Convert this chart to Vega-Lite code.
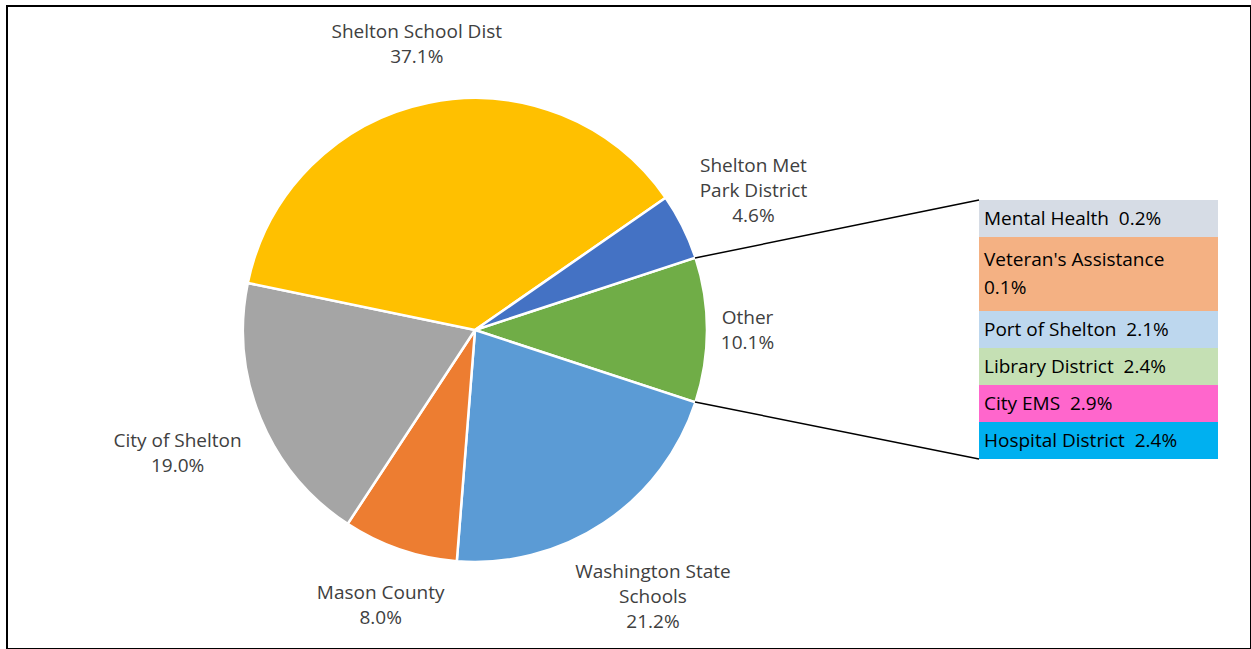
{
  "$schema": "https://vega.github.io/schema/vega-lite/v6.json",
  "width": 1244,
  "height": 643,
  "autosize": "none",
  "padding": {"left": 7, "top": 6, "right": 0, "bottom": 0},
  "background": "white",
  "config": {"view": {"stroke": "black", "strokeWidth": 2}, "font": "Open Sans"},
  "datasets": {
    "pie": [
      {"name": "Other", "label": "Other", "share": 0.101},
      {"name": "Washington State Schools", "label": "Washington State\nSchools", "share": 0.212},
      {"name": "Mason County", "label": "Mason County", "share": 0.080},
      {"name": "City of Shelton", "label": "City of Shelton", "share": 0.190},
      {"name": "Shelton School Dist", "label": "Shelton School Dist", "share": 0.371},
      {"name": "Shelton Met Park District", "label": "Shelton Met\nPark District", "share": 0.046}
    ],
    "other": [
      {"name": "Mental Health", "share": 0.002},
      {"name": "Veteran's Assistance", "share": 0.001},
      {"name": "Port of Shelton", "share": 0.021},
      {"name": "Library District", "share": 0.024},
      {"name": "City EMS", "share": 0.029},
      {"name": "Hospital District", "share": 0.024}
    ]
  },
  "layer": [
    {
      "data": {"name": "pie"},
      "transform": [{"window": [{"op": "row_number", "as": "idx"}]}],
      "mark": {"type": "arc", "outerRadius": 232, "stroke": "white", "strokeWidth": 2.5},
      "encoding": {
        "theta": {"field": "share", "type": "quantitative", "stack": true, "scale": {"range": [1.2535, 7.5367]}},
        "color": {
          "field": "name", "type": "nominal", "legend": null,
          "scale": {
            "domain": ["Other", "Washington State Schools", "Mason County", "City of Shelton", "Shelton School Dist", "Shelton Met Park District"],
            "range": ["#70AD47", "#5B9BD5", "#ED7D31", "#A5A5A5", "#FFC000", "#4472C4"]
          }
        },
        "order": {"field": "idx", "type": "quantitative"},
        "x": {"value": 468},
        "y": {"value": 324}
      }
    },
    {
      "data": {"name": "pie"},
      "transform": [{"window": [{"op": "row_number", "as": "idx"}]}],
      "mark": {
        "type": "text", "font": "Open Sans", "fontSize": 19, "fill": "#404040",
        "lineBreak": "\n", "lineHeight": 25, "align": "center", "baseline": "middle",
        "radius": {"expr": "250 + 4.5 * length(split(datum.label, '\\n')[0]) * abs(sin(scale('theta', (datum.share_start + datum.share_end) / 2))) + 12.5 * (length(split(datum.label, '\\n')) + 1) * abs(cos(scale('theta', (datum.share_start + datum.share_end) / 2)))"},
        "dy": {"expr": "-12.5 * length(split(datum.label, '\\n'))"},
        "text": {"expr": "datum.label + '\\n' + format(datum.share, '.1%')"}
      },
      "encoding": {
        "theta": {"field": "share", "type": "quantitative", "stack": true, "scale": {"range": [1.2535, 7.5367]}},
        "detail": {"field": "name", "type": "nominal"},
        "order": {"field": "idx", "type": "quantitative"},
        "x": {"value": 468},
        "y": {"value": 324}
      }
    },
    {
      "data": {"name": "other"},
      "mark": {"type": "rect"},
      "encoding": {
        "y": {
          "field": "name", "type": "nominal", "sort": null, "axis": null,
          "scale": {
            "domain": ["Mental Health", "Veteran's Assistance", "Veteran's Assistance (line 2)", "Port of Shelton", "Library District", "City EMS", "Hospital District"],
            "range": [194, 453], "paddingInner": 0, "paddingOuter": 0
          }
        },
        "x": {"value": 972},
        "x2": {"value": 1211},
        "fill": {
          "field": "name", "type": "nominal", "legend": null,
          "scale": {
            "domain": ["Mental Health", "Veteran's Assistance", "Port of Shelton", "Library District", "City EMS", "Hospital District"],
            "range": ["#D6DCE5", "#F4B183", "#BDD7EE", "#C5E0B4", "#FF66CC", "#00B0F0"]
          }
        }
      }
    },
    {
      "data": {"name": "other"},
      "transform": [{"filter": "length(datum.name) > 18"}],
      "mark": {"type": "rect"},
      "encoding": {
        "y": {"datum": "Veteran's Assistance (line 2)", "type": "nominal", "axis": null},
        "x": {"value": 972},
        "x2": {"value": 1211},
        "fill": {"field": "name", "type": "nominal", "legend": null}
      }
    },
    {
      "data": {"name": "other"},
      "transform": [{"filter": "length(datum.name) <= 18"}],
      "mark": {
        "type": "text", "align": "left", "baseline": "middle", "font": "Open Sans", "fontSize": 19,
        "fill": "black",
        "text": {"expr": "datum.name + '\u00a0\u00a0' + format(datum.share, '.1%')"}
      },
      "encoding": {
        "y": {"field": "name", "type": "nominal", "sort": null, "axis": null},
        "x": {"value": 977}
      }
    },
    {
      "data": {"name": "other"},
      "transform": [{"filter": "length(datum.name) > 18"}],
      "mark": {
        "type": "text", "align": "left", "baseline": "middle", "font": "Open Sans", "fontSize": 19,
        "fill": "black", "lineHeight": 28, "dy": -14,
        "text": {"expr": "[datum.name, format(datum.share, '.1%')]"}
      },
      "encoding": {
        "y": {"field": "name", "type": "nominal", "sort": null, "axis": null, "bandPosition": 1},
        "x": {"value": 977}
      }
    },
    {
      "data": {"values": [{}]},
      "mark": {"type": "rule", "stroke": "black", "strokeWidth": 1.5},
      "encoding": {"x": {"value": 688}, "y": {"value": 252}, "x2": {"value": 972}, "y2": {"value": 194}}
    },
    {
      "data": {"values": [{}]},
      "mark": {"type": "rule", "stroke": "black", "strokeWidth": 1.5},
      "encoding": {"x": {"value": 688}, "y": {"value": 396}, "x2": {"value": 972}, "y2": {"value": 453}}
    }
  ]
}
